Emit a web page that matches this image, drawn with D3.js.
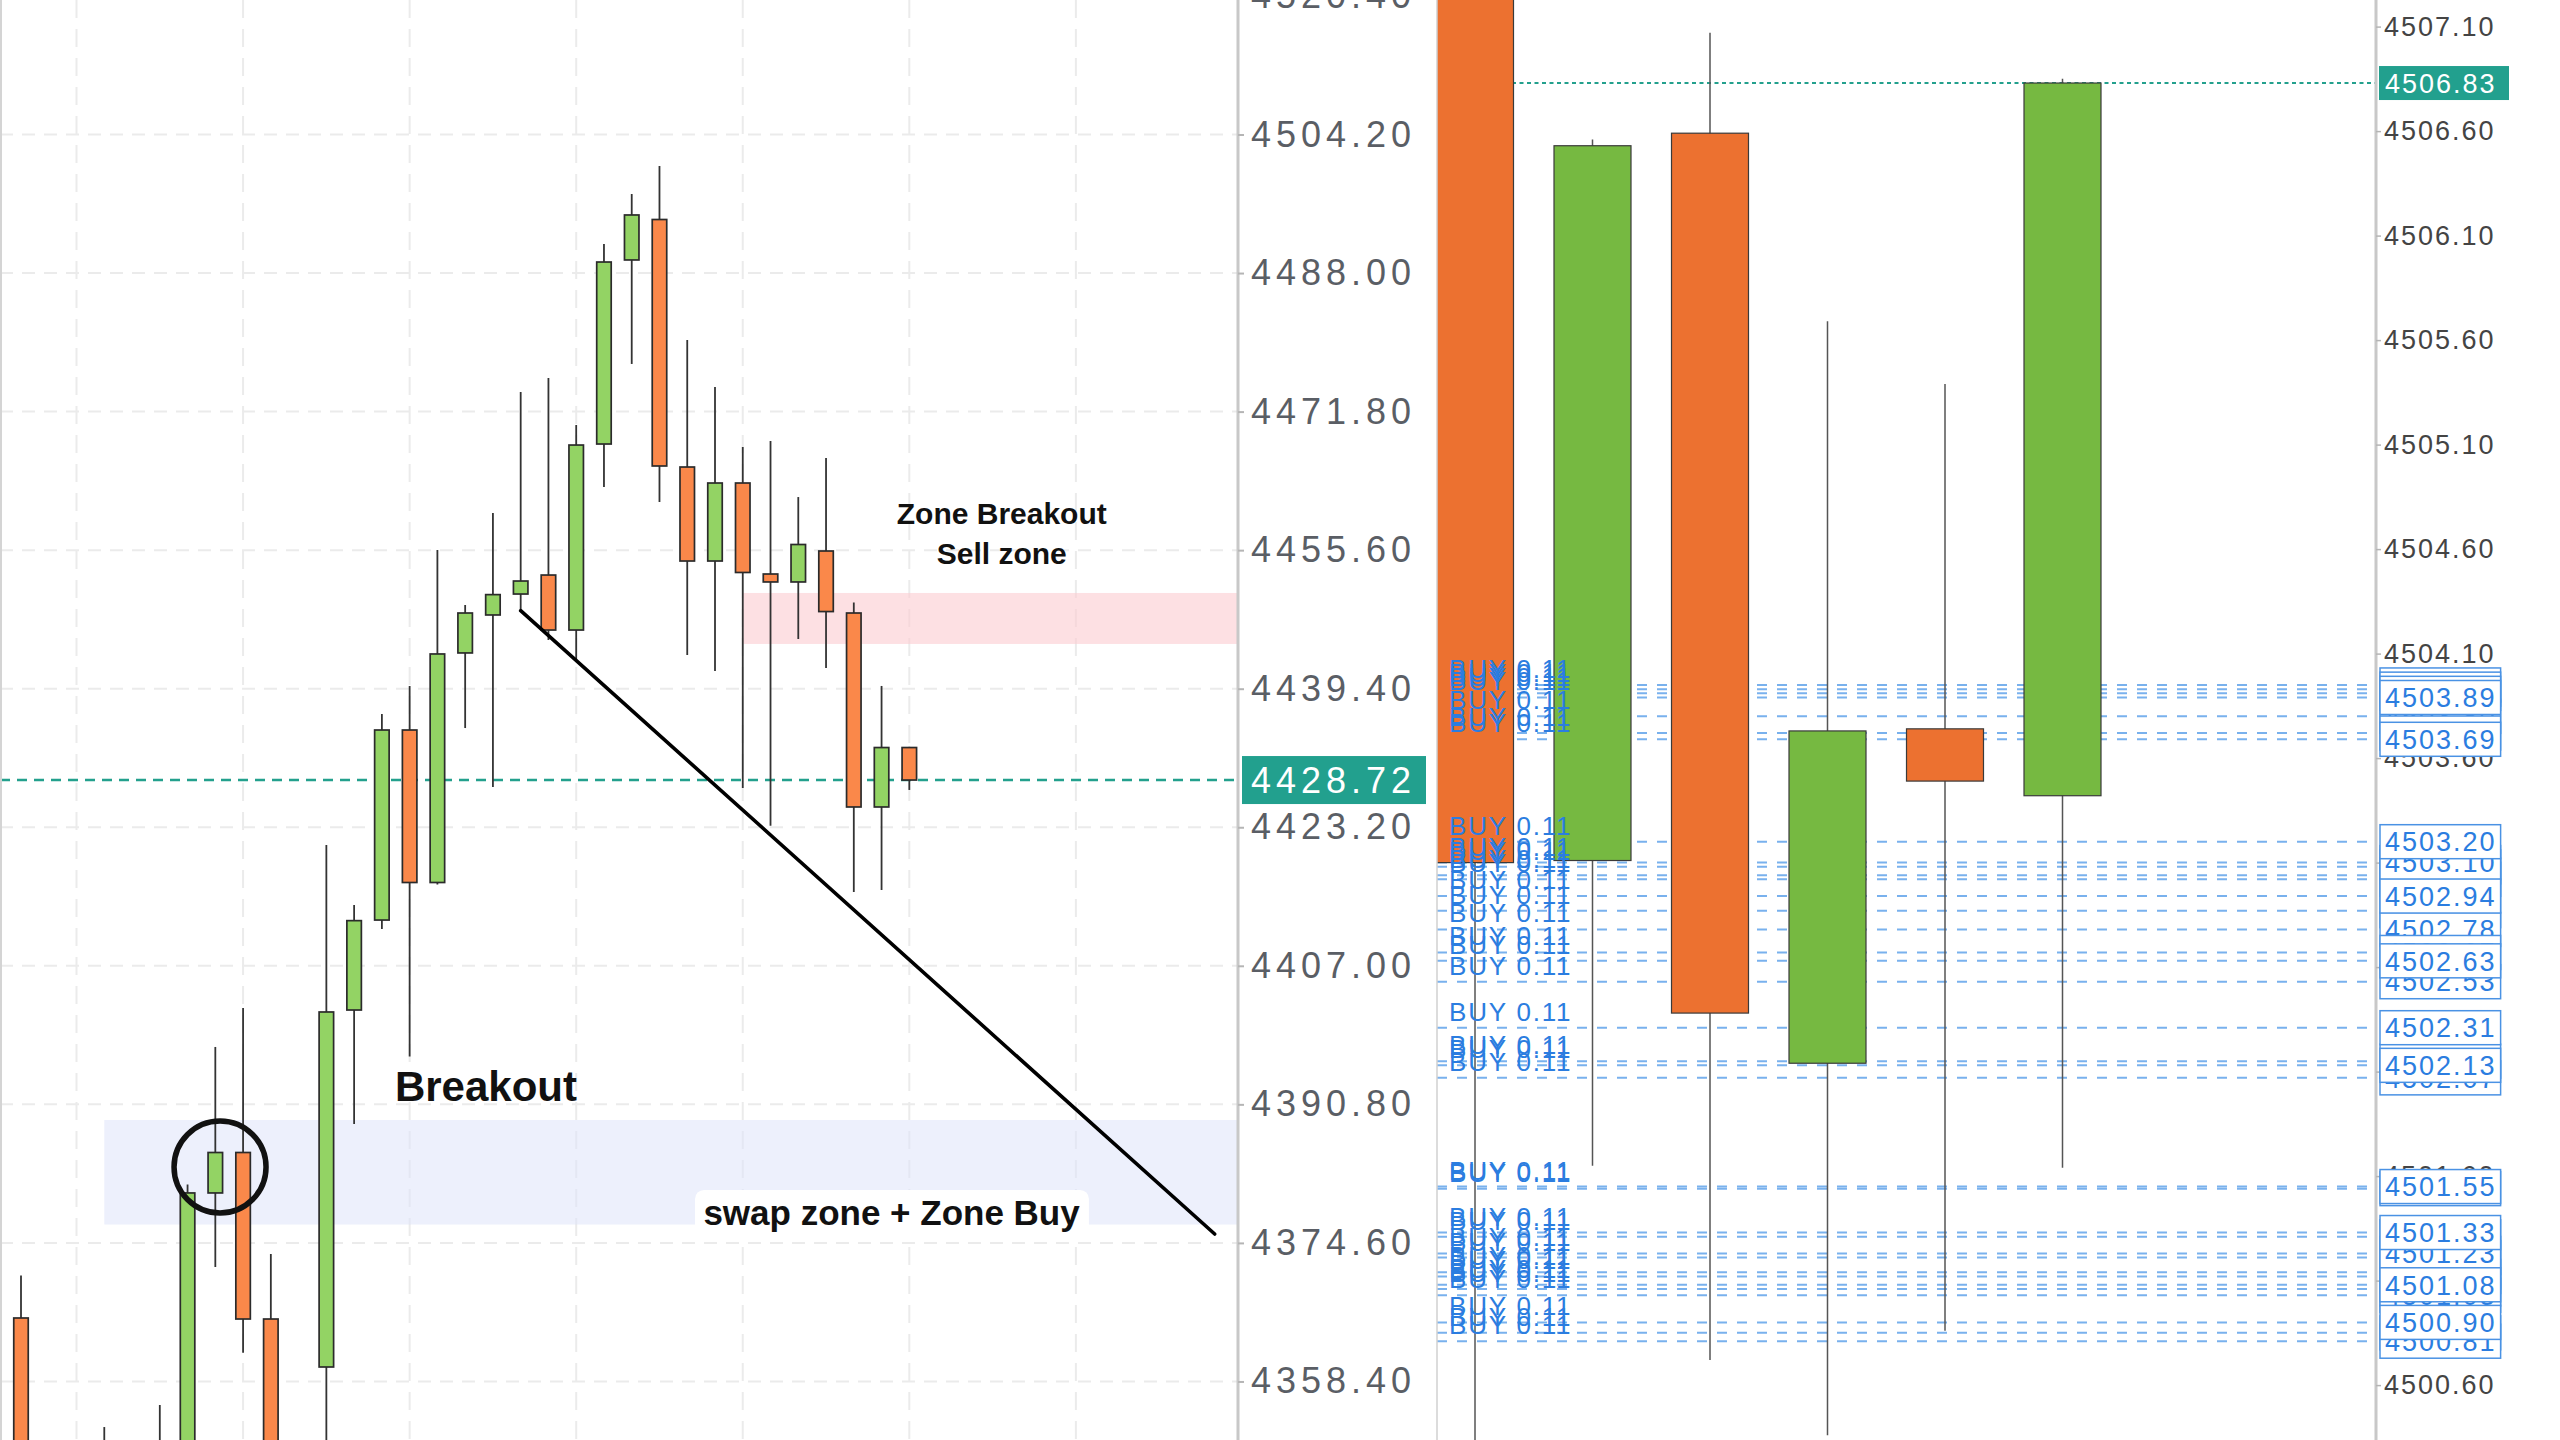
<!DOCTYPE html>
<html><head><meta charset="utf-8">
<script src="https://cdn.jsdelivr.net/npm/d3@7"></script>
<style>html,body{margin:0;padding:0;background:#fff;overflow:hidden;} svg{display:block;}</style>
</head><body>
<svg id="chart" width="2560" height="1440"></svg>
<script>
// ================= DATA =================
// Left chart candles, slot = bar index
const leftSlots  = [0, 3, 5, 6, 7, 8, 9, 11, 12, 13, 14, 15, 16, 17, 18, 19, 20, 21, 22, 23, 24, 25, 26, 27, 28, 29, 30, 31, 32];
const leftOpen   = [4365.82, 4344.00, 4349.00, 4348.00, 4380.44, 4385.17, 4365.70, 4360.09, 4401.83, 4412.35, 4434.57, 4416.74, 4443.58, 4448.02, 4450.47, 4452.69, 4446.26, 4468.01, 4489.53, 4494.26, 4465.32, 4454.33, 4463.45, 4452.81, 4451.88, 4455.50, 4448.25, 4425.57, 4432.52];
const leftHigh   = [4370.78, 4353.07, 4355.65, 4381.42, 4397.51, 4402.07, 4373.30, 4421.12, 4414.11, 4436.44, 4439.72, 4455.62, 4449.19, 4459.94, 4474.09, 4475.73, 4470.23, 4491.40, 4497.24, 4500.52, 4480.17, 4474.68, 4467.66, 4468.36, 4461.81, 4466.37, 4449.49, 4439.72, 4432.60];
const leftLow    = [4340.00, 4340.00, 4341.00, 4345.00, 4371.78, 4361.76, 4342.00, 4348.00, 4388.50, 4411.30, 4396.40, 4416.50, 4434.80, 4427.91, 4448.49, 4445.10, 4442.87, 4462.98, 4477.37, 4461.23, 4443.34, 4441.47, 4427.79, 4423.39, 4445.21, 4441.82, 4415.63, 4415.86, 4427.56];
const leftClose  = [4345.00, 4348.00, 4345.00, 4380.44, 4385.17, 4365.70, 4345.00, 4401.60, 4412.28, 4434.57, 4416.74, 4443.46, 4448.25, 4450.40, 4451.99, 4446.26, 4467.89, 4489.29, 4494.79, 4465.44, 4454.33, 4463.45, 4452.99, 4451.88, 4456.26, 4448.42, 4425.57, 4432.52, 4428.72];
const leftTicks  = [4520.40, 4504.20, 4488.00, 4471.80, 4455.60, 4439.40, 4423.20, 4407.00, 4390.80, 4374.60, 4358.40];
const leftGridSlots = [2, 8, 14, 20, 26, 32, 38];
const leftLastPrice = 4428.72;

// Annotations on the left chart (slot / price coordinates)
const buyZoneSlot = 3,  buyZoneTop = 4388.97, buyZoneBottom = 4376.75;
const sellZoneSlot = 26, sellZoneTop = 4450.59, sellZoneBottom = 4444.63;
const trendStart = [18, 4448.53], trendEnd = [43.0, 4375.64];
const circleAt = [7.17, 4383.47];
const breakoutText = "Breakout", breakoutAt = [13.47, 4391.19];
const sellTexts = ["Zone Breakout", "Sell zone"], sellTextAt = [35.33, 4458.66, 4453.98];
const swapText = "swap zone + Zone Buy", swapAt = [31.36, 4376.69], swapBox = [24.28, 38.47, 4380.79, 4374.94];

// Right chart (zoomed-in candles)
const rightSlots = [0, 1, 2, 3, 4, 5];
const rightOpen  = [4507.80, 4503.11, 4506.59, 4502.14, 4503.74, 4503.42];
const rightHigh  = [4508.10, 4506.56, 4507.07, 4505.69, 4505.39, 4506.85];
const rightLow   = [4500.20, 4501.65, 4500.72, 4500.36, 4500.86, 4501.64];
const rightClose = [4503.10, 4506.53, 4502.38, 4503.73, 4503.49, 4506.83];
const rightTicks = [4507.10, 4506.60, 4506.10, 4505.60, 4505.10, 4504.60, 4504.10, 4503.60, 4503.10, 4502.60, 4502.10, 4501.60, 4501.10, 4500.60];
const rightLastPrice = 4506.83;

// Open BUY orders (drawing order)
const buyOrders = [4503.95, 4503.93, 4503.91, 4503.80, 4503.72, 4503.08, 4503.04, 4503.02, 4502.87, 4502.78, 4502.67, 4502.15, 4502.07,
                   4501.54, 4501.31, 4501.21, 4501.14, 4501.12, 4501.06, 4501.03, 4500.85, 4500.81,
                   4503.10, 4502.53, 4501.23,
                   4503.89, 4503.69, 4503.20, 4502.94, 4502.63, 4502.31, 4502.13, 4501.55, 4501.33, 4501.08, 4500.90];
const buyLabel = "BUY 0.11";

// ================= DRAW =================
const FONT = '"Liberation Sans", Arial, Helvetica, sans-serif';
const svg = d3.select('#chart');
svg.append('rect').attr('width', 2560).attr('height', 1440).attr('fill', '#ffffff');
const fmt = d3.format('.2f');

const LEFT_W = 1238;
const R0 = 1437, R1 = 2376;
const xL = d3.scaleLinear().domain([-0.7565, 43.84]).range([0, LEFT_W]);
const yL = d3.scaleLinear().domain([4504.2, 4358.4]).range([134.5, 1381.45]);
const xR = d3.scaleLinear().domain([0, 5]).range([1475, 2062.5]);
const yR = d3.scaleLinear().domain([4507.1, 4500.6]).range([26.6, 1385.1]);

const defs = svg.append('defs');
defs.append('clipPath').attr('id', 'clipL').append('rect').attr('x', 0).attr('y', 0).attr('width', LEFT_W).attr('height', 1440);
defs.append('clipPath').attr('id', 'clipR').append('rect').attr('x', R0).attr('y', 0).attr('width', R1 - R0).attr('height', 1440);

// ---------- LEFT PANEL ----------
const gL = svg.append('g').attr('clip-path', 'url(#clipL)');
gL.append('g').selectAll('line').data(leftTicks).join('line')
  .attr('x1', 0).attr('x2', LEFT_W).attr('y1', d => yL(d)).attr('y2', d => yL(d))
  .attr('stroke', '#ebebeb').attr('stroke-width', 2).attr('stroke-dasharray', '13,9');
gL.append('g').selectAll('line').data(leftGridSlots).join('line')
  .attr('x1', d => xL(d)).attr('x2', d => xL(d)).attr('y1', 0).attr('y2', 1440)
  .attr('stroke', '#ebebeb').attr('stroke-width', 2).attr('stroke-dasharray', '18,11');
svg.append('line').attr('x1', 1).attr('x2', 1).attr('y1', 0).attr('y2', 1440).attr('stroke', '#d4d4d4').attr('stroke-width', 2);

// zones
gL.append('rect').attr('x', xL(buyZoneSlot)).attr('width', LEFT_W - xL(buyZoneSlot))
  .attr('y', yL(buyZoneTop)).attr('height', yL(buyZoneBottom) - yL(buyZoneTop))
  .attr('fill', '#dfe3fa').attr('fill-opacity', 0.55);
gL.append('rect').attr('x', xL(sellZoneSlot)).attr('width', LEFT_W - xL(sellZoneSlot))
  .attr('y', yL(sellZoneTop)).attr('height', yL(sellZoneBottom) - yL(sellZoneTop))
  .attr('fill', '#fbcdd2').attr('fill-opacity', 0.62);

// last price line
gL.append('line').attr('x1', 0).attr('x2', LEFT_W).attr('y1', yL(leftLastPrice)).attr('y2', yL(leftLastPrice))
  .attr('stroke', '#23a08d').attr('stroke-width', 2.6).attr('stroke-dasharray', '10,7');

// candles
const leftData = leftSlots.map((s, i) => ({s, o: leftOpen[i], h: leftHigh[i], l: leftLow[i], c: leftClose[i]}));
const LBW = 14.5;
gL.append('g').selectAll('line').data(leftData).join('line')
  .attr('x1', d => xL(d.s)).attr('x2', d => xL(d.s)).attr('y1', d => yL(d.h)).attr('y2', d => yL(d.l))
  .attr('stroke', '#333').attr('stroke-width', 1.8);
gL.append('g').selectAll('rect').data(leftData).join('rect')
  .attr('x', d => xL(d.s) - LBW / 2).attr('width', LBW)
  .attr('y', d => yL(Math.max(d.o, d.c))).attr('height', d => Math.max(2, Math.abs(yL(d.o) - yL(d.c))))
  .attr('fill', d => d.c >= d.o ? '#93d364' : '#fa884a')
  .attr('stroke', '#2b2b2b').attr('stroke-width', 1.7);

// trend line, circle
gL.append('line').attr('x1', xL(trendStart[0])).attr('y1', yL(trendStart[1]))
  .attr('x2', xL(trendEnd[0])).attr('y2', yL(trendEnd[1]))
  .attr('stroke', '#000').attr('stroke-width', 3.6).attr('stroke-linecap', 'round');
gL.append('circle').attr('cx', xL(circleAt[0])).attr('cy', yL(circleAt[1])).attr('r', 46)
  .attr('fill', 'none').attr('stroke', '#111').attr('stroke-width', 5.5);

// texts
gL.append('text').attr('x', xL(breakoutAt[0])).attr('y', yL(breakoutAt[1]))
  .attr('font-family', FONT).attr('font-weight', 'bold').attr('font-size', 42).attr('fill', '#111').text(breakoutText);
gL.append('g').selectAll('text').data(sellTexts).join('text')
  .attr('x', xL(sellTextAt[0])).attr('y', (d, i) => yL(sellTextAt[i + 1]))
  .attr('text-anchor', 'middle').attr('font-family', FONT).attr('font-weight', 'bold').attr('font-size', 30).attr('fill', '#111')
  .text(d => d);
gL.append('rect').attr('x', xL(swapBox[0])).attr('width', xL(swapBox[1]) - xL(swapBox[0]))
  .attr('y', yL(swapBox[2])).attr('height', yL(swapBox[3]) - yL(swapBox[2])).attr('rx', 9)
  .attr('fill', '#ffffff');
gL.append('text').attr('x', xL(swapAt[0])).attr('y', yL(swapAt[1])).attr('text-anchor', 'middle')
  .attr('font-family', FONT).attr('font-weight', 'bold').attr('font-size', 35).attr('fill', '#111').text(swapText);

// left axis
svg.append('line').attr('x1', LEFT_W).attr('x2', LEFT_W).attr('y1', 0).attr('y2', 1440).attr('stroke', '#c8c8c8').attr('stroke-width', 3);
const axL = svg.append('g').attr('transform', `translate(${LEFT_W},0)`)
  .call(d3.axisRight(yL).tickValues(leftTicks).tickFormat(fmt).tickSize(6).tickPadding(7));
axL.select('.domain').remove();
axL.selectAll('line').attr('stroke', '#b5b5b5').attr('stroke-width', 2);
axL.selectAll('text').attr('font-family', FONT).attr('font-size', 36).attr('fill', '#5a5e65').style('letter-spacing', '5px');
// last price tag
svg.append('rect').attr('x', 1242).attr('y', yL(leftLastPrice) - 24).attr('width', 184).attr('height', 48).attr('fill', '#22a08e');
svg.append('text').attr('x', 1251).attr('y', yL(leftLastPrice)).attr('dy', '0.35em')
  .attr('font-family', FONT).attr('font-size', 36).attr('fill', '#fff').style('letter-spacing', '5px').text(fmt(leftLastPrice));

// ---------- RIGHT PANEL ----------
const gR = svg.append('g').attr('clip-path', 'url(#clipR)');
svg.append('line').attr('x1', R0).attr('x2', R0).attr('y1', 0).attr('y2', 1440).attr('stroke', '#d0d0d0').attr('stroke-width', 1.5);
gR.append('line').attr('x1', R0).attr('x2', R1).attr('y1', yR(rightLastPrice)).attr('y2', yR(rightLastPrice))
  .attr('stroke', '#23a08d').attr('stroke-width', 2).attr('stroke-dasharray', '4,3.5');
gR.append('g').selectAll('line').data(buyOrders).join('line')
  .attr('x1', R0).attr('x2', R1).attr('y1', d => yR(d)).attr('y2', d => yR(d))
  .attr('stroke', '#62a3ea').attr('stroke-opacity', 0.85).attr('stroke-width', 2).attr('stroke-dasharray', '10,10');

const rightData = rightSlots.map((s, i) => ({s, o: rightOpen[i], h: rightHigh[i], l: rightLow[i], c: rightClose[i]}));
const RBW = 77;
gR.append('g').selectAll('line').data(rightData).join('line')
  .attr('x1', d => xR(d.s)).attr('x2', d => xR(d.s)).attr('y1', d => yR(d.h)).attr('y2', d => yR(d.l))
  .attr('stroke', '#555').attr('stroke-width', 1.5);
gR.append('g').selectAll('rect').data(rightData).join('rect')
  .attr('x', d => xR(d.s) - RBW / 2).attr('width', RBW)
  .attr('y', d => yR(Math.max(d.o, d.c))).attr('height', d => Math.abs(yR(d.o) - yR(d.c)))
  .attr('fill', d => d.c >= d.o ? '#76b941' : '#ec7130')
  .attr('stroke', '#3a3a3a').attr('stroke-width', 1.2);

gR.append('g').selectAll('text').data(buyOrders).join('text')
  .attr('x', 1449).attr('y', d => yR(d) - 7)
  .attr('font-family', FONT).attr('font-size', 26).attr('fill', '#2b7de0').style('letter-spacing', '1.8px')
  .text(buyLabel);

// right axis
svg.append('line').attr('x1', R1).attr('x2', R1).attr('y1', 0).attr('y2', 1440).attr('stroke', '#c8c8c8').attr('stroke-width', 3);
const axR = svg.append('g').attr('transform', `translate(${R1},0)`)
  .call(d3.axisRight(yR).tickValues(rightTicks).tickFormat(fmt).tickSize(5).tickPadding(3));
axR.select('.domain').remove();
axR.selectAll('line').attr('stroke', '#b5b5b5').attr('stroke-width', 1.5);
axR.selectAll('text').attr('font-family', FONT).attr('font-size', 27).attr('fill', '#444').style('letter-spacing', '2px');

// buy order price tags
const tags = svg.append('g').selectAll('g').data(buyOrders).join('g');
tags.append('rect').attr('x', 2380).attr('y', d => yR(d) - 17).attr('height', 34).attr('width', 126)
  .attr('fill', '#fff').attr('stroke', '#4a92e4').attr('stroke-width', 1.5);
tags.append('text').attr('x', 2385).attr('y', d => yR(d)).attr('dy', '0.36em')
  .attr('font-family', FONT).attr('font-size', 27).attr('fill', '#2b7de0').style('letter-spacing', '2px')
  .text(d => fmt(d));
tags.each(function() {
  const t = d3.select(this).select('text').node();
  const w = t.getComputedTextLength();
  d3.select(this).select('rect').attr('width', w + 9);
});

// right last price tag
svg.append('rect').attr('x', 2379).attr('y', yR(rightLastPrice) - 17).attr('width', 130).attr('height', 34).attr('fill', '#22a08e');
svg.append('text').attr('x', 2385).attr('y', yR(rightLastPrice)).attr('dy', '0.36em')
  .attr('font-family', FONT).attr('font-size', 27).attr('fill', '#fff').style('letter-spacing', '2px').text(fmt(rightLastPrice));
</script>
</body></html>
